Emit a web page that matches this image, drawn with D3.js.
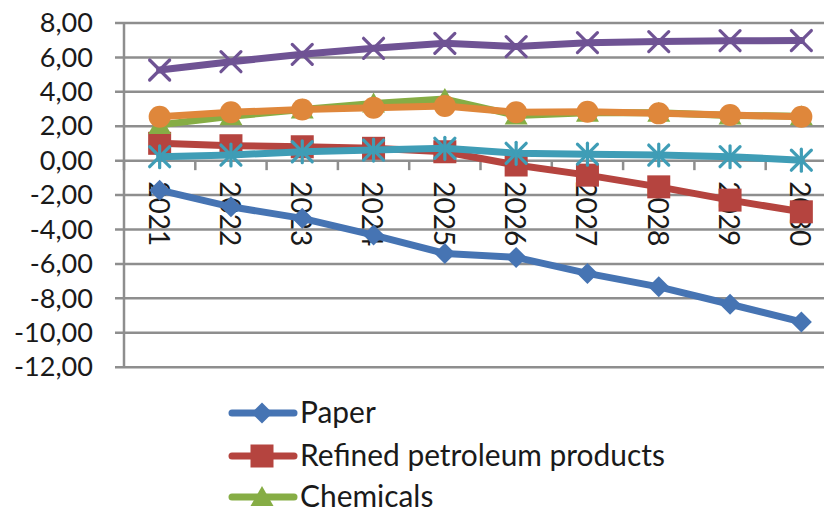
<!DOCTYPE html>
<html>
<head>
<meta charset="utf-8">
<script src="https://cdn.jsdelivr.net/npm/d3@7"></script>
<style>
  html, body { margin: 0; padding: 0; background: #fff; overflow: hidden; }
  svg { display: block; font-family: Lato, "Open Sans", sans-serif; }
</style>
</head>
<body>
<svg id="chart" width="824" height="513"></svg>
<script>
// Categories and series values (annual change, %)
const years = ["2021", "2022", "2023", "2024", "2025", "2026", "2027", "2028", "2029", "2030"];
const paper = [-1.74, -2.71, -3.38, -4.35, -5.42, -5.65, -6.58, -7.36, -8.37, -9.40];
const refinedPetroleum = [0.98, 0.84, 0.78, 0.69, 0.49, -0.28, -0.87, -1.55, -2.32, -3.00];
const chemicals = [2.05, 2.55, 2.95, 3.30, 3.55, 2.60, 2.75, 2.75, 2.60, 2.55];
const series4 = [5.24, 5.72, 6.15, 6.50, 6.79, 6.60, 6.83, 6.89, 6.94, 6.95];
const series5 = [0.20, 0.30, 0.49, 0.59, 0.69, 0.40, 0.35, 0.30, 0.20, 0.00];
const series6 = [2.52, 2.78, 2.95, 3.05, 3.15, 2.78, 2.81, 2.72, 2.62, 2.52];
const yTicks = [-12, -10, -8, -6, -4, -2, 0, 2, 4, 6, 8];
const legendNames = ["Paper", "Refined petroleum products", "Chemicals"];

const series = [
  { values: paper,            color: "#4674b3", marker: "diamond" },
  { values: refinedPetroleum, color: "#b5443f", marker: "square" },
  { values: chemicals,        color: "#86ad45", marker: "triangle" },
  { values: series4,          color: "#6f5394", marker: "cross" },
  { values: series5,          color: "#3f9db6", marker: "asterisk" },
  { values: series6,          color: "#df873b", marker: "circle" }
];

const svg = d3.select("#chart");
const plot = { left: 124, right: 837, top: 22.5, bottom: 366.7 };

const x = d3.scaleBand().domain(years).range([plot.left, plot.right]).padding(0);
const y = d3.scaleLinear().domain([-12, 8]).range([plot.bottom, plot.top]);
const cx = d => x(d) + x.bandwidth() / 2;

const gridColor = "#8e8e8e";
const fmt = v => v.toFixed(2).replace(".", ",");

// fit a font size so a given string spans a target width
function fitSize(str, target) {
  const t = svg.append("text").attr("font-size", 100).text(str);
  const w = t.node().getComputedTextLength();
  t.remove();
  return 100 * target / w;
}
const yLabelSize = fitSize("-12,00", 79);
const xLabelSize = fitSize("2021", 65);
const legendSize = fitSize("Refined petroleum products", 365);

// Y axis: gridlines with outward ticks
const yAxis = d3.axisLeft(y).tickValues(yTicks).tickFormat(fmt)
  .tickSizeInner(-(plot.right - plot.left)).tickSizeOuter(0).tickPadding(0);
const gy = svg.append("g").attr("transform", `translate(${plot.left},0)`).call(yAxis);
gy.select(".domain").remove();
gy.selectAll(".tick line").attr("x1", -9).attr("stroke", gridColor).attr("stroke-width", 2.5);
gy.selectAll(".tick text")
  .attr("x", -31).attr("dy", "0.34em")
  .attr("font-size", yLabelSize).attr("fill", "#1a1a1a").attr("text-anchor", "end")
  .style("font-family", "Lato, 'Open Sans', sans-serif");

// vertical axis line
svg.append("line")
  .attr("x1", plot.left).attr("x2", plot.left)
  .attr("y1", plot.top).attr("y2", plot.bottom)
  .attr("stroke", gridColor).attr("stroke-width", 2.5);

// category axis crossing at zero: tick marks at category boundaries
const boundaries = years.map(d => x(d)).concat([plot.right]);
svg.append("g").selectAll("line").data(boundaries).join("line")
  .attr("x1", d => d).attr("x2", d => d)
  .attr("y1", y(0)).attr("y2", y(0) + 10)
  .attr("stroke", gridColor).attr("stroke-width", 2.5);

// rotated year labels
svg.append("g").selectAll("text").data(years).join("text")
  .attr("transform", d => `translate(${cx(d) - 1},${y(0) + 21}) rotate(90)`)
  .attr("dy", "0.36em")
  .attr("font-size", xLabelSize).attr("fill", "#1a1a1a")
  .text(d => d);

// marker shapes
function drawMarker(g, type, color) {
  const r = 10.5;
  if (type === "diamond") {
    g.append("path").attr("d", `M0,${-r}L${r},0L0,${r}L${-r},0Z`).attr("fill", color);
  } else if (type === "square") {
    g.append("rect").attr("x", -11.5).attr("y", -11.5).attr("width", 23).attr("height", 23)
      .attr("fill", color);
  } else if (type === "triangle") {
    g.append("path").attr("d", "M0,-11L11.5,9L-11.5,9Z").attr("fill", color);
  } else if (type === "circle") {
    g.append("circle").attr("r", 11).attr("fill", color);
  } else {
    const s = 10;
    const segs = [[-s, -s, s, s], [-s, s, s, -s]];
    if (type === "asterisk") segs.push([0, -s - 1, 0, s + 1]);
    g.selectAll("line").data(segs).join("line")
      .attr("x1", d => d[0]).attr("y1", d => d[1]).attr("x2", d => d[2]).attr("y2", d => d[3])
      .attr("stroke", color).attr("stroke-width", 3.2).attr("stroke-linecap", "round");
  }
}

const line = d3.line().x((d, i) => cx(years[i])).y(d => y(d));

series.forEach(s => {
  const g = svg.append("g");
  g.append("path").datum(s.values).attr("d", line)
    .attr("fill", "none").attr("stroke", s.color).attr("stroke-width", 7)
    .attr("stroke-linejoin", "round").attr("stroke-linecap", "round");
  s.values.forEach((v, i) => {
    const m = g.append("g").attr("transform", `translate(${cx(years[i])},${y(v)})`);
    drawMarker(m, s.marker, s.color);
  });
});

// legend
const legendRows = [413, 456, 497];
legendNames.forEach((name, i) => {
  const s = series[i];
  const g = svg.append("g").attr("transform", `translate(0,${legendRows[i]})`);
  g.append("line").attr("x1", 232).attr("x2", 294).attr("y1", 0).attr("y2", 0)
    .attr("stroke", s.color).attr("stroke-width", 7).attr("stroke-linecap", "round");
  drawMarker(g.append("g").attr("transform", "translate(262,0)"), s.marker, s.color);
  g.append("text").attr("x", 300).attr("dy", "0.35em")
    .attr("font-size", legendSize).attr("fill", "#1a1a1a").text(name);
});
</script>
</body>
</html>
